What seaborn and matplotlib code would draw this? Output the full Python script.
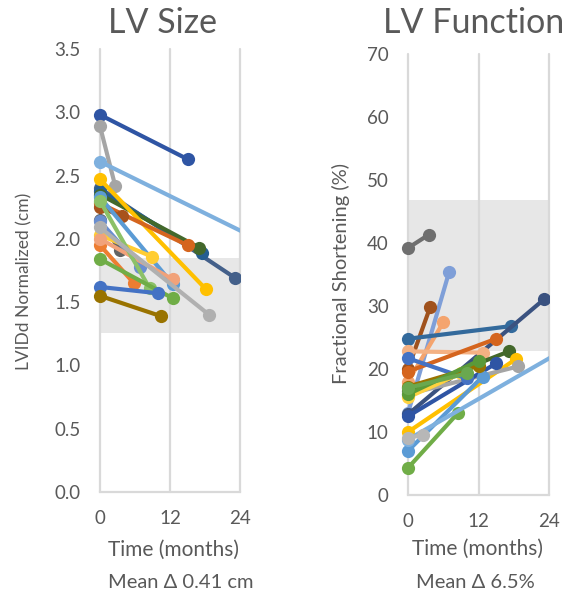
import numpy as np
import pandas as pd
import matplotlib
matplotlib.use("Agg")
import matplotlib.pyplot as plt
from matplotlib.transforms import Bbox, TransformedBbox
import seaborn as sns

# ---- data ----
# LV size: LVIDd normalized (cm), baseline at month 0, follow-up at month t1
size_v0 = [2.98, 2.89, 2.61, 2.40, 2.38, 2.35, 2.47, 2.28, 2.25, 2.15,
           2.14, 2.33, 2.03, 1.95, 2.00, 2.30, 1.84, 1.62, 1.55, 2.09]
size_t1 = [15.0, 2.6, 30.0, 23.2, 17.5, 17.0, 18.2, 15.0, 3.7, 3.4,
           6.9, 12.5, 8.9, 5.8, 12.5, 8.5, 12.5, 10.0, 10.4, 18.7]
size_v1 = [2.63, 2.42, 1.93, 1.69, 1.89, 1.93, 1.60, 1.95, 2.18, 1.91,
           1.78, 1.64, 1.86, 1.65, 1.68, 1.61, 1.53, 1.57, 1.39, 1.40]
size_colors = ["#2F55A4", "#A5A5A5", "#7EB0DE", "#44608A", "#255E91",
               "#43682B", "#FFC000", "#D5651E", "#A8521C", "#636363",
               "#698ED0", "#5B9BD5", "#FFCD33", "#ED7D31", "#F1A27A",
               "#8CC168", "#70AD47", "#4472C4", "#997300", "#B0B0B0"]
size_normal = (1.26, 1.85)

# LV function: fractional shortening (%)
fs_v0 = [39.2, 13.0, 20.0, 18.0, 24.8, 12.8, 22.8, 19.6, 16.5, 10.0,
         16.0, 12.5, 7.0, 15.5, 4.3, 8.8, 21.7, 17.2, 16.0, 9.0, 17.0]
fs_t1 = [3.5, 7.0, 3.8, 6.0, 17.5, 23.2, 12.7, 15.0, 17.2, 18.4,
         18.7, 15.0, 12.7, 9.0, 8.5, 30.0, 10.0, 12.0, 12.0, 2.6, 10.0]
fs_v1 = [41.3, 35.4, 29.9, 27.4, 26.8, 31.1, 22.6, 24.8, 22.8, 21.6,
         20.4, 20.9, 18.8, 19.3, 13.0, 24.9, 18.5, 20.5, 21.3, 9.6, 19.3]
fs_colors = ["#6F6F6F", "#7F9FD8", "#A0521D", "#F4A46E", "#336A9C",
             "#3A5280", "#F4B183", "#D5651E", "#43682B", "#FFC000",
             "#A5A5A5", "#2F55A4", "#5B9BD5", "#FFD23F", "#70AD47",
             "#7EB0DE", "#4472C4", "#997300", "#5A9A39", "#B7B7B7", "#6AA84F"]
fs_normal = (22.8, 46.8)

months = [0, 12, 24]


def long_frame(v0, t1, v1):
    rows = []
    for i in range(len(v0)):
        rows.append({"pid": i, "time": 0.0, "value": v0[i]})
        rows.append({"pid": i, "time": t1[i], "value": v1[i]})
    return pd.DataFrame(rows)


sns.set_style("white")
plt.rcParams["font.family"] = ["Lato", "DejaVu Sans"]
grey_txt = "#595959"
grid_c = "#D9D9D9"

fig = plt.figure(figsize=(5.73, 5.97), dpi=100)
W, H = 573, 597


def px_axes(x0, y0, x1, y1):
    return fig.add_axes([x0 / W, 1 - y1 / H, (x1 - x0) / W, (y1 - y0) / H])


ax1 = px_axes(100, 49, 240, 492)
ax2 = px_axes(408, 54, 549, 495)

panels = [
    (ax1, long_frame(size_v0, size_t1, size_v1), size_colors, size_normal,
     (0, 3.5), np.arange(0, 3.51, 0.5), "{:.1f}"),
    (ax2, long_frame(fs_v0, fs_t1, fs_v1), fs_colors, fs_normal,
     (0, 70), np.arange(0, 71, 10), "{:.0f}"),
]

for ax, df, cols, normal, ylim, yt, fmt in panels:
    ax.axhspan(normal[0], normal[1], xmin=0, xmax=1, color="#E7E7E7", lw=0, zorder=0)
    for m in months:
        ax.axvline(m, color=grid_c, lw=1.6, zorder=0.5, clip_on=False)
    n_before = len(ax.lines)
    sns.lineplot(data=df, x="time", y="value", hue="pid", palette=cols,
                 marker="o", markersize=9.5, markeredgewidth=0, linewidth=3,
                 legend=False, ax=ax, sort=True, estimator=None)
    ax.set_xlim(0, 24)
    ax.set_ylim(*ylim)
    # clip only on the right (series running past 24 months), keep full dots at 0
    clip = TransformedBbox(Bbox([[-3, ylim[0] - 10], [24, ylim[1] + 10]]), ax.transData)
    for line in ax.lines[n_before:]:
        line.set_clip_box(clip)
    ax.set_xticks(months)
    ax.set_xticklabels([str(m) for m in months])
    ax.set_yticks(yt)
    ax.set_yticklabels([fmt.format(v) for v in yt])
    ax.tick_params(axis="both", length=0, labelsize=13.5, colors=grey_txt)
    ax.tick_params(axis="y", pad=14)
    ax.tick_params(axis="x", pad=13)
    ax.set_xlabel("")
    ax.set_ylabel("")
    for side in ["top", "right", "left"]:
        ax.spines[side].set_visible(False)
    ax.spines["bottom"].set_color(grid_c)
    ax.spines["bottom"].set_linewidth(1.6)


# text outside the axes (pixel positions)
def ftext(x, y, s, **kw):
    fig.text(x / W, 1 - y / H, s, color=grey_txt, ha="center", va="center", **kw)


ftext(163, 23, "LV Size", fontsize=24.5)
ftext(474, 23, "LV Function", fontsize=24.5)
ftext(24, 281, "LVIDd Normalized (cm)", fontsize=12.5, rotation=90)
ftext(341, 273, "Fractional Shortening (%)", fontsize=14.5, rotation=90)
ftext(174, 550, "Time (months)", fontsize=15)
ftext(478, 549, "Time (months)", fontsize=15)
ftext(181, 583, "Mean \u0394 0.41 cm", fontsize=14.5)
ftext(475, 583, "Mean \u0394 6.5%", fontsize=14.5)

fig.savefig("out.png", dpi=100)
